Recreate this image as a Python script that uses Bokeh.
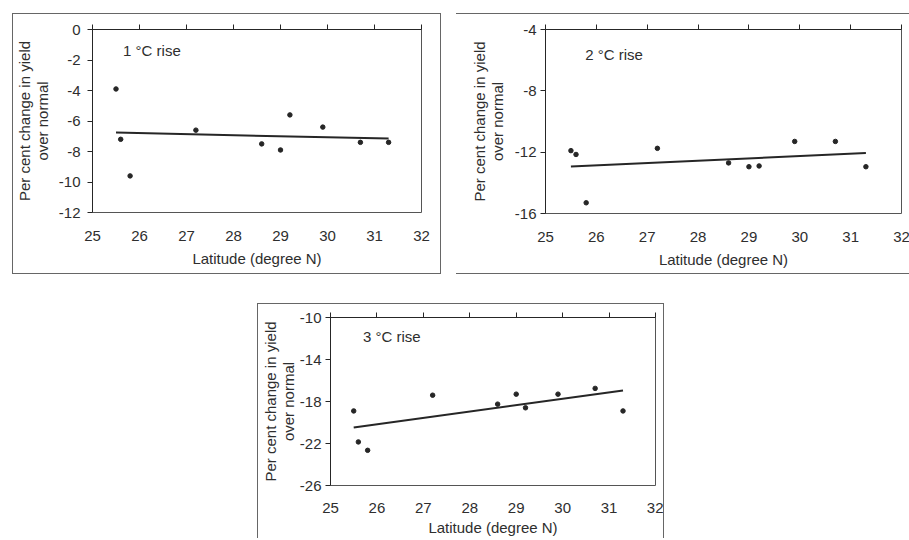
from bokeh.plotting import figure
from bokeh.models import FixedTicker, LinearAxis, Label, Range1d, Spacer
from bokeh.layouts import column, row
from bokeh.embed import file_html
from bokeh.resources import INLINE
import numpy as np

# ---- data ----
latitude = [25.5, 25.6, 25.8, 27.2, 28.6, 29.0, 29.2, 29.9, 30.7, 31.3]
rise_1c = [-3.9, -7.2, -9.6, -6.6, -7.5, -7.9, -5.6, -6.4, -7.4, -7.4]
rise_2c = [-11.9, -12.15, -15.3, -11.75, -12.7, -12.95, -12.9, -11.3, -11.3, -12.95]
rise_3c = [-18.9, -21.85, -22.65, -17.4, -18.25, -17.3, -18.6, -17.3, -16.75, -18.9]

x_ticks = [25, 26, 27, 28, 29, 30, 31, 32]
y_ticks_1 = [-12, -10, -8, -6, -4, -2, 0]
y_ticks_2 = [-16, -12, -8, -4]
y_ticks_3 = [-26, -22, -18, -14, -10]
panel_labels = ["1 °C rise", "2 °C rise", "3 °C rise"]
x_title = "Latitude (degree N)"
y_title = "Per cent change in yield\nover normal"

FONT = "Liberation Sans"
INK = "#262626"
TXT = "#2e2e2e"


def make_panel(yvals, yticks, label, label_pos, fw, fh, borders, font_px,
               x_std, x_title_std, y_std, y_title_std, frame_css):
    left, top, right, bottom = borders
    p = figure(frame_width=fw, frame_height=fh,
               x_range=Range1d(x_ticks[0], x_ticks[-1]),
               y_range=Range1d(yticks[0], yticks[-1]),
               output_backend="svg", toolbar_location=None,
               min_border_left=left, min_border_top=top,
               min_border_right=right, min_border_bottom=bottom,
               background_fill_color="white", border_fill_color="white")
    p.grid.visible = False
    p.outline_line_color = "#555555"
    p.outline_line_width = 1

    fs = f"{font_px}px"
    # bottom axis: labels only
    xa = p.xaxis[0]
    xa.ticker = FixedTicker(ticks=x_ticks)
    xa.major_label_overrides = {t: str(t) for t in x_ticks}
    xa.axis_line_color = None
    xa.major_tick_line_color = None
    xa.minor_tick_line_color = None
    xa.major_tick_out = 0
    xa.major_tick_in = 0
    xa.major_label_standoff = x_std
    xa.major_label_text_font = FONT
    xa.major_label_text_font_size = fs
    xa.major_label_text_color = TXT
    xa.axis_label = x_title
    xa.axis_label_standoff = x_title_std
    xa.axis_label_text_font = FONT
    xa.axis_label_text_font_size = fs
    xa.axis_label_text_font_style = "normal"
    xa.axis_label_text_color = TXT

    # top axis: line with tick marks, no labels
    ta = LinearAxis(ticker=FixedTicker(ticks=x_ticks))
    ta.axis_line_color = INK
    ta.major_tick_line_color = INK
    ta.minor_tick_line_color = None
    ta.major_tick_out = 5
    ta.major_tick_in = 0
    ta.major_label_text_color = None
    ta.major_label_text_font_size = "1px"
    ta.major_label_standoff = 0
    p.add_layout(ta, "above")

    ya = p.yaxis[0]
    ya.ticker = FixedTicker(ticks=yticks)
    ya.major_label_overrides = {t: str(t) for t in yticks}
    ya.axis_line_color = INK
    ya.major_tick_line_color = INK
    ya.minor_tick_line_color = None
    ya.major_tick_out = 5
    ya.major_tick_in = 0
    ya.major_label_standoff = y_std
    ya.major_label_text_font = FONT
    ya.major_label_text_font_size = fs
    ya.major_label_text_color = TXT
    ya.axis_label = y_title
    ya.axis_label_standoff = y_title_std
    ya.axis_label_text_font = FONT
    ya.axis_label_text_font_size = fs
    ya.axis_label_text_font_style = "normal"
    ya.axis_label_text_color = TXT
    ya.axis_label_text_line_height = 1.03

    p.scatter(latitude, yvals, size=4.5, marker="circle",
              fill_color=INK, line_color=INK)

    slope, intercept = np.polyfit(latitude, yvals, 1)
    xs = [min(latitude), max(latitude)]
    ys = [slope * v + intercept for v in xs]
    p.line(xs, ys, line_width=2, line_color=INK)

    p.add_layout(Label(x=label_pos[0], y=label_pos[1], text=label,
                       text_font=FONT, text_font_size=fs,
                       text_color=TXT, text_baseline="middle"))
    p.styles = frame_css
    return p


p1 = make_panel(rise_1c, y_ticks_1, panel_labels[0], (25.65, -1.35),
                327, 181, (77, 15, 21, 63), 15, 18, 6, 7, 5,
                {"border": "1px solid #666"})
p2 = make_panel(rise_2c, y_ticks_2, panel_labels[1], (25.78, -5.6),
                356, 182, (89, 14, 9, 63), 15, 18, 6, 4, 6,
                {"border-top": "1px solid #666", "border-bottom": "1px solid #666"})
p3 = make_panel(rise_3c, y_ticks_3, panel_labels[2], (25.7, -11.8),
                323, 167, (72, 13, 10, 54), 15, 17, 3, 4, 0,
                {"border-top": "1px solid #666", "border-left": "1px solid #666",
                 "border-right": "1px solid #666"})

layout = column(
    Spacer(height=13),
    row(Spacer(width=12), p1, Spacer(width=15), p2),
    Spacer(height=29),
    row(Spacer(width=257), p3),
)

open("out.html", "w").write(file_html(layout, INLINE))
